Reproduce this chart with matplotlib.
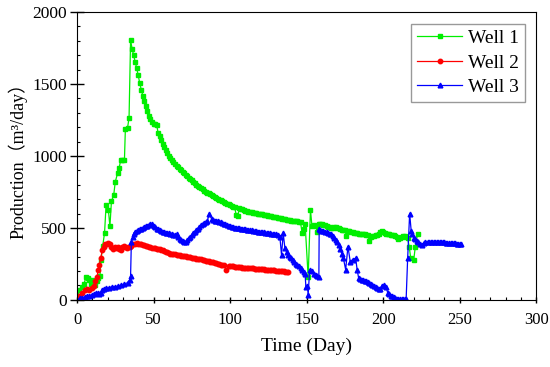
import numpy as np
import matplotlib
matplotlib.use('Agg')
import matplotlib.pyplot as plt
from matplotlib.ticker import MultipleLocator

plt.rcParams['font.family'] = ['Liberation Serif', 'Noto Sans CJK SC']

# Well 1 (green squares)
well1_day = [0, 1.5, 3, 4.5, 6, 7, 8, 9, 10, 11, 12, 13, 14, 15, 15.7, 16.8, 18, 19, 20.5, 21.5,
             22.5, 24, 25, 26.5, 27.5, 28.5, 29.5, 31, 31.6, 33, 34,
             35, 36, 37, 38, 39, 40, 41, 42, 43, 44, 45, 46, 47, 48, 49, 50, 51, 52, 53, 54,
             55, 56, 57, 58, 59, 60, 61, 62, 63, 64, 65, 66, 67, 68, 69, 70, 71, 72, 73, 74,
             75, 76, 77, 78, 79, 80, 81, 82, 83, 84, 85, 86, 87, 88, 89, 90, 91, 92, 93, 94,
             95, 96, 97, 98, 99, 100, 101, 102, 103, 104, 105, 106, 107, 108, 109, 110, 111,
             112, 113, 114, 115, 116, 117, 118, 119, 120, 121, 122, 123, 124, 125, 126, 127,
             128, 129, 130, 131, 132, 133, 134, 135, 136, 137, 138, 139, 140, 141, 142, 143,
             144, 145, 146, 147, 148, 149,
             151, 152.5, 153.5, 155, 156, 157, 158, 159, 160, 161, 162, 163, 164, 165, 166,
             167, 168, 169, 170, 171, 172, 173, 174, 175, 176, 177, 178, 179, 180, 181, 182,
             183, 184, 185, 186, 187, 188, 189, 190, 191, 192, 193, 194, 195, 196, 197, 198,
             199, 200, 201, 202, 203, 204, 205, 206, 207, 208, 209, 210, 211, 212, 213, 214,
             215, 216, 217, 218, 220, 221, 222.5]
well1_val = [0, 70, 90, 110, 160, 150, 140, 110, 140, 120, 105, 130, 150, 165, 280, 375, 465, 660, 625, 510,
             685, 730, 820, 880, 915, 970, 975, 975, 1190, 1195, 1265,
             1805, 1745, 1700, 1655, 1610, 1560, 1505, 1460, 1420, 1380, 1345, 1310, 1280, 1255,
             1235, 1225, 1222, 1218, 1160, 1140, 1110, 1085, 1060, 1040, 1020, 1000, 985, 970,
             957, 945, 932, 920, 910, 900, 890, 880, 870, 860, 850, 840, 830, 820, 810, 800, 792,
             785, 776, 768, 760, 752, 746, 740, 734, 728, 721, 715, 708, 702, 697, 692, 686, 680,
             674, 668, 663, 658, 653, 648, 643, 590, 580, 635, 631, 628, 624, 620, 617, 614, 611,
             608, 606, 604, 602, 600, 599, 598, 595, 592, 590, 587, 585, 582, 580, 578, 576, 574,
             572, 570, 567, 565, 562, 560, 557, 555, 552, 550, 548, 547, 546, 545, 543, 540, 467,
             490, 530,
             160, 627, 510, 520, 515, 470, 525, 528, 525, 522, 520, 512, 505, 503, 500, 502, 505,
             503, 500, 497, 490, 488, 485, 483, 445, 480, 478, 474, 470, 468, 465, 463, 460, 458,
             455, 455, 455, 453, 450, 410, 440, 442, 445, 448, 450, 455, 475, 480, 470, 465, 460,
             458, 455, 453, 450, 448, 445, 435, 420, 430, 440, 442, 445, 440, 430, 370, 290, 280,
             370, 460]

# Well 2 (red circles)
well2_day = [0, 1.5, 3.5, 5, 6.5, 8, 9.5, 11, 12, 13, 14, 14.5, 15.5, 16.5, 17.5, 18.5, 19.5, 20.5,
             21.5, 22.5, 23.5, 24.5, 25.5, 26.5, 27.5, 28.5, 29.5, 30.5, 31.5, 32.5, 33.5, 34.5,
             35.5, 36.5, 38, 39, 40, 41, 42, 43, 44, 45, 46, 47, 48, 49, 50, 51, 52, 53, 54, 55,
             56, 57, 58, 59, 60, 61, 62, 63, 64, 65, 66, 67, 68, 69, 70, 71, 72, 73, 74, 75, 76,
             77, 78, 79, 80, 81, 82, 83, 84, 85, 86, 87, 88, 89, 90, 91, 92, 93, 94, 95, 96, 97.5,
             99, 100, 101, 102, 103, 104, 105, 106, 107, 108, 109, 110, 111, 112, 113, 114, 115,
             116, 117, 118, 119, 120, 121, 122, 123, 124, 125, 126, 127, 128, 129, 130, 131, 132,
             133, 134, 135, 136, 137, 138]
well2_val = [0, 25, 46, 65, 72, 70, 80, 93, 130, 160, 210, 240, 290, 345, 370, 385, 385, 395,
             390, 370, 350, 365, 360, 370, 355, 345, 365, 375, 370, 360, 365, 370,
             375, 385, 390, 395, 390, 387, 385, 382, 378, 375, 372, 369, 366, 363, 360, 357, 355,
             352, 350, 347, 345, 340, 335, 330, 325, 322, 320, 318, 316, 314, 312, 310, 307, 305,
             303, 302, 300, 298, 295, 293, 291, 289, 287, 285, 283, 281, 278, 276, 273, 270, 268,
             265, 262, 260, 257, 254, 251, 248, 245, 243, 240, 210, 238, 234, 233, 232, 230, 229,
             228, 227, 225, 224, 223, 222, 221, 220, 219, 218, 218, 217, 216, 215, 214, 214, 213,
             211, 210, 209, 208, 207, 206, 205, 204, 203, 202, 201, 200, 199, 198, 196, 195, 193]

# Well 3 (blue triangles)
well3_day = [0, 2, 3.5, 5, 6.5, 8, 9.5, 11, 12.5, 13.5, 14.5, 15.5, 16.5, 17.5, 19, 21, 23, 25,
             27, 29, 31, 33, 34.5, 35, 35.5, 36.5, 37, 38, 39, 40, 41, 42, 43, 44, 45, 46, 47,
             48, 49, 50, 51, 52, 53, 54, 55, 56, 57, 58, 59, 60, 61, 62, 63, 64, 65, 66, 67, 68,
             69, 70, 71, 72, 73, 74, 75, 76, 77, 78, 79, 80, 81, 82, 83, 84, 85, 86.5, 88, 89,
             90, 91, 92, 93, 94, 95, 96, 97, 98, 99, 100, 101, 102, 103, 104, 105, 106, 107, 108,
             109, 110, 111, 112, 113, 114, 115, 116, 117, 118, 119, 120, 121, 122, 123, 124, 125,
             126, 127, 128, 129, 130, 131, 132.5, 133.6,
             134.7, 135.8, 137, 138, 139, 140, 141, 142, 143, 144, 145, 146, 147, 148, 149,
             149.5, 150.5, 151, 152, 153.5, 155, 156, 157, 158, 158.2, 159, 160, 161, 162, 163,
             164, 165, 166, 167, 168, 169, 170, 171, 172, 173, 174, 175.5, 177, 178.5, 180,
             182, 183, 184, 185, 186, 187, 188, 189, 190, 191, 192, 193, 194, 195, 196, 197, 198,
             199, 200.5, 202, 203, 204, 205, 206, 207, 208, 209, 210, 211, 212, 213, 214, 215,
             216, 217.3, 218.3, 219, 220, 221, 222, 223, 224, 225.5, 226.5, 227.5, 229, 230,
             231, 232, 233, 234, 235, 236, 237, 238, 239, 240, 241, 242, 243, 244, 245, 246,
             247, 248, 249, 250, 251]
well3_val = [0, 10, 15, 20, 25, 30, 35, 38, 45, 50, 40, 45, 70, 75, 80, 85, 90, 92,
             96, 100, 108, 120, 140, 165, 400, 440, 460, 475, 480, 485, 490, 495, 500, 505, 510,
             515, 522, 530, 528, 512, 503, 495, 490, 485, 480, 475, 471, 468, 465, 462, 458, 455,
             452, 450, 455, 440, 420, 415, 410, 405, 403, 415, 428, 440, 452, 465, 475, 485, 495,
             505, 518, 530, 535, 540, 545, 600, 560, 555, 550, 548, 545, 542, 540, 535, 530, 525,
             520, 515, 510, 507, 505, 502, 500, 498, 497, 495, 493, 491, 490, 488, 486, 484, 482,
             480, 478, 476, 475, 473, 472, 470, 469, 467, 466, 464, 463, 461, 460, 458, 455, 450,
             440, 312, 463, 359, 330, 315, 301, 290, 280, 265, 250, 240, 232, 220, 210, 195, 180,
             92, 95, 35, 210, 197, 180, 172, 165, 160, 490, 485, 480, 478, 475, 470, 465, 460,
             455, 445, 430, 418, 405, 380, 350, 320, 290, 210, 370, 265, 280, 290, 210, 150, 145,
             140, 135, 130, 128, 125, 118, 110, 102, 95, 88, 80, 78, 75, 95, 105, 90, 45, 38, 30,
             25, 20, 15, 8, 5, 3, 3, 3, 3, 3, 290, 600, 480, 455, 430, 420, 410, 400, 390, 380,
             395, 405, 405, 405, 405, 404, 404, 403, 403, 402, 401, 400, 400, 399, 398, 397, 396,
             395, 394, 393, 392, 391, 390, 389, 388]

fig = plt.figure(figsize=(5.5, 3.67), dpi=100)
ax = fig.add_axes([0.14, 0.183, 0.835, 0.784])

ax.plot(well1_day, well1_val, color='#00ee00', marker='s', markersize=3.2, linewidth=0.9, label='Well 1')
ax.plot(well2_day, well2_val, color='#ff0000', marker='o', markersize=3.2, linewidth=0.9, label='Well 2')
ax.plot(well3_day, well3_val, color='#0000ff', marker='^', markersize=3.4, linewidth=0.9, label='Well 3')

ax.set_xlim(0, 300)
ax.set_ylim(0, 2000)
ax.xaxis.set_major_locator(MultipleLocator(50))
ax.xaxis.set_minor_locator(MultipleLocator(10))
ax.yaxis.set_major_locator(MultipleLocator(500))
ax.yaxis.set_minor_locator(MultipleLocator(100))
ax.tick_params(axis='x', which='major', direction='inout', length=5, width=1, labelsize=12, pad=6)
ax.tick_params(axis='y', which='major', direction='inout', length=10, width=1, labelsize=12.5, pad=2)
ax.tick_params(which='minor', direction='in', length=2.5, width=0.8)

ax.set_xlabel('Time (Day)', fontsize=14, labelpad=7)
ax.set_ylabel('Production（m³/day）', fontsize=13, labelpad=4)

leg = ax.legend(loc='upper right', fontsize=14, frameon=True, fancybox=False,
                edgecolor='gray', handlelength=2.3, borderaxespad=0.6,
                borderpad=0.3, labelspacing=0.35, handletextpad=0.3)
leg.get_frame().set_linewidth(1.0)

plt.savefig('out.png', dpi=100)
